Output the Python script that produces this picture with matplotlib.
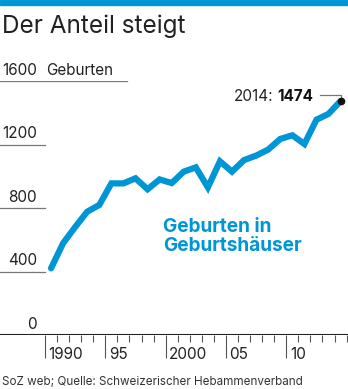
import numpy as np
import matplotlib
matplotlib.use("Agg")
import matplotlib.pyplot as plt

plt.rcParams['font.family'] = ['Inter', 'DejaVu Sans']

# Geburten in Geburtshäusern, 1990-2014
years = list(range(1990, 2015))
births = [420, 578, 680, 777, 819, 955, 955, 987, 918, 980, 957,
          1029, 1056, 930, 1094, 1029, 1102, 1130, 1168, 1235, 1258,
          1203, 1356, 1393, 1474]

y_ticks = [0, 400, 800, 1200, 1600]
x_major = [1990, 1995, 2000, 2005, 2010]
x_labels = ['1990', '95', '2000', '05', '10']

blue = '#0096d6'
W, H = 348, 389

fig = plt.figure(figsize=(W / 100, H / 100), dpi=100)
fig.patches.append(plt.Rectangle((0, 1 - 5 / H), 1, 5 / H, transform=fig.transFigure,
                                 color=blue, zorder=0))

ax = fig.add_axes([0, (H - 335) / H, 1, (335 - 81) / H])
px_year = 12.065
ax.set_xlim(1990 - 45 / px_year, 1990 + 303 / px_year)
ax.set_ylim(0, 1600)
for s in ax.spines.values():
    s.set_visible(False)
ax.set_yticks([])
ax.set_xticks(x_major)
ax.set_xticks(range(1991, 2016), minor=True)
ax.set_xticklabels([])
ax.tick_params(axis='x', which='major', length=16.5, width=0.8, color='#555555', direction='out')
ax.tick_params(axis='x', which='minor', length=5, width=0.8, color='#555555', direction='out')

# short gridlines + labels
for v in y_ticks:
    if v == 0:
        ax.axhline(0, color='#222222', lw=1.5, zorder=3)
    else:
        ax.axhline(v, xmin=0, xmax=(127 if v == 1600 else 45) / W, color='#777777', lw=0.9)
    ax.text(37 / W, v + 38, str(v), transform=ax.get_yaxis_transform(), ha='right',
            va='baseline', fontsize=11, color='#222222')
ax.text(46 / W, 1600 + 38, 'Geburten', transform=ax.get_yaxis_transform(), ha='left',
        va='baseline', fontsize=11, color='#222222')

for yr, lab in zip(x_major, x_labels):
    ax.text(yr + 0.3, -151, lab, ha='left', va='baseline', fontsize=11,
            color='#222222', clip_on=False)

x = np.array(years) + 0.5
ax.plot(x, births, color=blue, lw=4.5, solid_capstyle='round', solid_joinstyle='miter',
        zorder=4, clip_on=False)
ax.plot(x[-1], births[-1], 'o', color='#111111', ms=4.5, zorder=5, clip_on=False)

# annotation leader
ax.plot([2012.8, x[-1], x[-1]], [1512, 1512, births[-1]], color='#777777', lw=0.9,
        zorder=3, clip_on=False)
ax.text(2012.8 - 7 / px_year, 1474 + 3, f'{births[-1]}', ha='right', va='baseline',
        fontsize=11, fontweight='bold', color='#111111')
ax.text(1990 + (274 - 45) / px_year, 1474 + 3, f'{years[-1]}:', ha='right', va='baseline',
        fontsize=11, color='#222222')

# series label (baseline of last line)
ax.text(1990 + (163 - 45) / px_year, 530, 'Geburten in\nGeburtshäuser', ha='left',
        va='baseline', fontsize=13.7, fontweight='bold', color=blue, linespacing=1.05)

fig.text(2 / W, 1 - 33 / H, 'Der Anteil steigt', ha='left', va='baseline', fontsize=17.5,
         color='#222222')
fig.text(2 / W, 1 - 385 / H, 'SoZ web; Quelle: Schweizerischer Hebammenverband',
         ha='left', va='baseline', fontsize=8.4, color='#333333')

fig.savefig('out.png', dpi=100)
